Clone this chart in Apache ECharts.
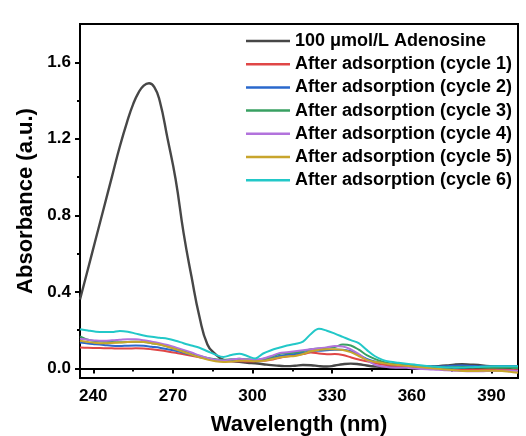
<!DOCTYPE html>
<html>
<head>
<meta charset="utf-8">
<script src="https://cdn.jsdelivr.net/npm/echarts@6/dist/echarts.min.js"></script>
<style>
  html, body { margin: 0; padding: 0; background: #ffffff; }
  #chart { width: 526px; height: 436px; }
</style>
</head>
<body>
<div id="chart"></div>
<script>
// Wavelength grid (nm) for the post-adsorption spectra
const wavelength = [235,238,241,244,247,250,253,256,259,262,265,268,271,274,277,280,283,286,289,292,
  295,298,301,304,307,310,313,316,319,322,325,328,331,334,337,340,343,346,349,352,
  355,358,361,364,367,370,373,376,379,382,385,388,391,394,397,400];

// Adenosine reference spectrum (finer sampling around the 260 nm band)
const adenosineWavelength = [235,238,241,244,247,250,253,255,257,259,261,263,265,268,271,274,277,280,283,286,289,292,
  295,298,301,304,307,310,313,316,319,322,325,328,331,334,337,340,343,346,349,352,
  355,358,361,364,367,370,373,376,379,382,385,388,391,394,397,400];
const adenosine = [0.36,0.52,0.68,0.84,1.00,1.16,1.30,1.38,1.44,1.478,1.49,1.47,1.40,1.20,0.99,0.71,0.48,0.27,0.125,0.075,0.045,0.038,
  0.035,0.030,0.027,0.022,0.017,0.014,0.012,0.014,0.018,0.017,0.012,0.010,0.015,0.022,0.025,0.022,0.015,0.010,0.008,0.009,
  0.010,0.010,0.010,0.010,0.011,0.012,0.015,0.020,0.022,0.020,0.018,0.013,0.012,0.012,0.012,0.012];

// Absorbance after each adsorption cycle
const cycle1 = [0.110,0.108,0.107,0.106,0.105,0.104,0.104,0.105,0.104,0.100,0.095,0.089,0.082,0.074,0.066,0.058,0.050,0.043,0.038,0.037,
  0.038,0.036,0.037,0.040,0.045,0.055,0.062,0.068,0.075,0.083,0.078,0.074,0.075,0.070,0.058,0.047,0.038,0.028,0.020,0.015,
  0.012,0.010,0.007,0.004,0.000,-0.003,-0.005,-0.006,-0.008,-0.006,-0.005,-0.005,-0.004,-0.006,-0.008,-0.010];
const cycle2 = [0.135,0.130,0.127,0.123,0.118,0.117,0.119,0.120,0.118,0.113,0.108,0.100,0.092,0.082,0.071,0.061,0.052,0.045,0.040,0.042,
  0.045,0.044,0.042,0.045,0.052,0.065,0.072,0.075,0.082,0.090,0.093,0.095,0.097,0.098,0.090,0.072,0.050,0.037,0.030,0.025,
  0.022,0.020,0.017,0.012,0.010,0.010,0.012,0.014,0.015,0.013,0.012,0.010,0.010,0.012,0.012,0.012];
const cycle3 = [0.168,0.150,0.142,0.140,0.138,0.137,0.138,0.140,0.138,0.132,0.125,0.115,0.104,0.092,0.078,0.065,0.055,0.048,0.045,0.048,
  0.050,0.048,0.045,0.050,0.060,0.075,0.080,0.083,0.090,0.100,0.104,0.108,0.112,0.125,0.120,0.098,0.070,0.050,0.035,0.025,
  0.020,0.016,0.012,0.008,0.005,0.004,0.005,0.006,0.007,0.006,0.005,0.004,0.004,0.004,0.003,0.002];
const cycle4 = [0.155,0.150,0.146,0.145,0.147,0.150,0.153,0.152,0.147,0.140,0.132,0.122,0.110,0.097,0.083,0.068,0.055,0.045,0.042,0.047,
  0.050,0.047,0.045,0.052,0.065,0.080,0.085,0.090,0.095,0.100,0.105,0.110,0.117,0.115,0.100,0.075,0.045,0.020,0.010,0.005,
  0.004,0.003,0.000,-0.003,-0.005,-0.007,-0.010,-0.012,-0.014,-0.015,-0.015,-0.014,-0.013,-0.012,-0.012,-0.012];
const cycle5 = [0.145,0.138,0.133,0.132,0.133,0.135,0.138,0.140,0.138,0.132,0.125,0.113,0.100,0.086,0.072,0.058,0.046,0.037,0.033,0.036,
  0.040,0.040,0.038,0.040,0.048,0.057,0.062,0.065,0.075,0.090,0.097,0.100,0.100,0.096,0.085,0.065,0.045,0.035,0.028,0.022,
  0.018,0.014,0.010,0.006,0.002,-0.002,-0.006,-0.010,-0.013,-0.014,-0.013,-0.012,-0.012,-0.014,-0.018,-0.022];
const cycle6 = [0.205,0.198,0.192,0.190,0.190,0.196,0.192,0.182,0.172,0.165,0.160,0.155,0.145,0.132,0.120,0.108,0.090,0.072,0.060,0.070,
  0.077,0.065,0.052,0.078,0.095,0.108,0.120,0.128,0.140,0.180,0.207,0.197,0.182,0.165,0.148,0.132,0.097,0.065,0.045,0.035,
  0.030,0.025,0.020,0.015,0.012,0.008,0.005,0.004,0.003,0.006,0.008,0.010,0.011,0.011,0.012,0.012];

const seriesNames = ['100 μmol/L Adenosine','After adsorption (cycle 1)','After adsorption (cycle 2)',
  'After adsorption (cycle 3)','After adsorption (cycle 4)','After adsorption (cycle 5)','After adsorption (cycle 6)'];
const seriesData = [adenosine, cycle1, cycle2, cycle3, cycle4, cycle5, cycle6];
const seriesColors = ['#474747','#e04646','#2a68cc','#38a062','#b272dc','#c8a52c','#22c8c8'];

// Axis ticks and labels
const xMajor = [240,270,300,330,360,390];
const xMinor = [255,285,315,345,375];
const yMajor = [0,0.4,0.8,1.2,1.6];
const yMinor = [0.2,0.6,1.0,1.4];

const FONT = '"Liberation Sans", Arial, sans-serif';
const chart = echarts.init(document.getElementById('chart'), null, { renderer: 'canvas' });

const series = seriesData.map((vals, i) => {
  const xs = i === 0 ? adenosineWavelength : wavelength;
  return {
    name: seriesNames[i],
    type: 'line',
    data: xs.map((w, k) => [w, vals[k]]),
    showSymbol: false,
    smooth: i === 0 ? 0.5 : 0.35,
    lineStyle: { width: i === 0 ? 2.4 : 2, color: seriesColors[i] },
    itemStyle: { color: seriesColors[i] },
    z: 2 + i,
    animation: false
  };
});

chart.setOption({
  backgroundColor: '#ffffff',
  animation: false,
  grid: { left: 80, right: 8, top: 24, bottom: 58, outerBoundsMode: 'none', containLabel: false,
    show: true, borderColor: '#000', borderWidth: 2, backgroundColor: 'transparent' },
  legend: {
    orient: 'vertical', left: 241, top: 27,
    itemWidth: 44, itemHeight: 14, itemGap: 5.2,
    icon: 'path://M0,5.75 L44,5.75 L44,8.25 L0,8.25 Z',
    textStyle: { fontFamily: FONT, fontWeight: 'bold', fontSize: 18, lineHeight: 18, color: '#000' },
    data: seriesNames.map((n, i) => ({ name: n, itemStyle: { color: seriesColors[i] } }))
  },
  xAxis: [{
    type: 'value', min: 235, max: 400,
    name: 'Wavelength (nm)', nameLocation: 'middle', nameGap: 36,
    nameTextStyle: { fontFamily: FONT, fontWeight: 'bold', fontSize: 22, color: '#000' },
    axisLine: { show: true, lineStyle: { color: '#000', width: 2 } },
    axisTick: { show: true, inside: false, length: 5, lineStyle: { color: '#000', width: 2 }, customValues: xMajor },
    axisLabel: { fontFamily: FONT, fontWeight: 'bold', fontSize: 17, color: '#000', margin: 10, customValues: xMajor },
    splitLine: { show: false }
  }, {
    type: 'value', min: 235, max: 400, position: 'bottom',
    axisLine: { show: false },
    axisTick: { show: true, length: 3, lineStyle: { color: '#000', width: 2 }, customValues: xMinor },
    axisLabel: { show: false },
    splitLine: { show: false }
  }],
  yAxis: [{
    type: 'value', min: -0.05, max: 1.8,
    name: 'Absorbance (a.u.)', nameLocation: 'middle', nameGap: 41,
    nameTextStyle: { fontFamily: FONT, fontWeight: 'bold', fontSize: 22, color: '#000' },
    axisLine: { show: true, lineStyle: { color: '#000', width: 2 } },
    axisTick: { show: true, length: 5, lineStyle: { color: '#000', width: 2 }, customValues: yMajor },
    axisLabel: { fontFamily: FONT, fontWeight: 'bold', fontSize: 17, color: '#000', margin: 9,
      customValues: yMajor, formatter: v => v.toFixed(1) },
    splitLine: { show: false }
  }, {
    type: 'value', min: -0.05, max: 1.8, position: 'left',
    axisLine: { show: false },
    axisTick: { show: true, length: 3, lineStyle: { color: '#000', width: 2 }, customValues: yMinor },
    axisLabel: { show: false },
    splitLine: { show: false }
  }],
  series: series
});
</script>
</body>
</html>
